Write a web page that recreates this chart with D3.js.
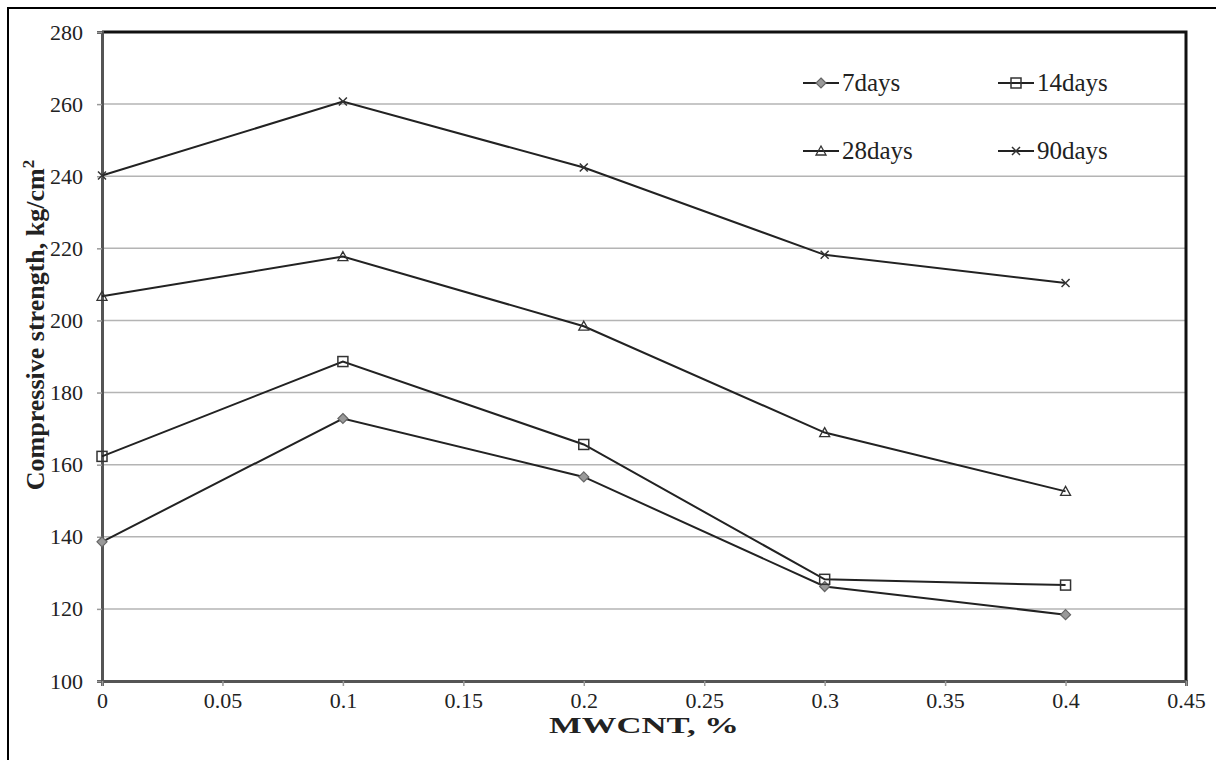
<!DOCTYPE html>
<html>
<head>
<meta charset="utf-8">
<style>
  body { margin: 0; background: #fff; }
  text { font-family: "Liberation Serif", "Times New Roman", serif; fill: #222; }
  .grid line { stroke: #b4b4b4; stroke-width: 1.5; }
  .series { fill: none; stroke: #222; stroke-width: 2; }
</style>
</head>
<body>
<script src="https://cdn.jsdelivr.net/npm/d3@7/dist/d3.min.js"></script>
<script>
// data
var mwcnt = [0, 0.1, 0.2, 0.3, 0.4];
var days7  = [138.6, 172.8, 156.6, 126.2, 118.4];
var days14 = [162.3, 188.6, 165.6, 128.2, 126.6];
var days28 = [206.7, 217.7, 198.4, 168.9, 152.6];
var days90 = [240.2, 260.7, 242.4, 218.2, 210.4];
var seriesNames = ["7days", "14days", "28days", "90days"];
var xTicks = [0, 0.05, 0.1, 0.15, 0.2, 0.25, 0.3, 0.35, 0.4, 0.45];
var yTicks = [100, 120, 140, 160, 180, 200, 220, 240, 260, 280];

var W = 1216, H = 760;
var margin = {top: 32, right: 30, bottom: 79, left: 102};

var svg = d3.select("body").append("svg")
    .attr("width", W).attr("height", H);

// outer frame (cropped at right/bottom in the original)
svg.append("rect")
    .attr("x", 8).attr("y", 8)
    .attr("width", W + 20).attr("height", H + 20)
    .attr("fill", "none").attr("stroke", "#000").attr("stroke-width", 2);

var x = d3.scaleLinear().domain([0, 0.45]).range([margin.left, W - margin.right]);
var y = d3.scaleLinear().domain([100, 280]).range([H - margin.bottom, margin.top]);

// gridlines
svg.append("g").attr("class", "grid")
  .selectAll("line").data(yTicks.slice(1, -1))
  .enter().append("line")
    .attr("x1", x(0)).attr("x2", x(0.45))
    .attr("y1", function(d) { return y(d); })
    .attr("y2", function(d) { return y(d); });

// plot box: top and right black
svg.append("path")
    .attr("d", "M" + x(0) + "," + y(280) + "H" + x(0.45) + "V" + y(100))
    .attr("fill", "none").attr("stroke", "#111").attr("stroke-width", 3);

// axes
var yAxis = d3.axisLeft(y).tickValues(yTicks).tickSize(5).tickPadding(14);
var xAxis = d3.axisBottom(x).tickValues(xTicks).tickSize(5).tickPadding(6)
    .tickFormat(function(d) { return d3.format("")(+d.toFixed(2)); });

var gy = svg.append("g").attr("transform", "translate(" + x(0) + ",0)").call(yAxis);
var gx = svg.append("g").attr("transform", "translate(0," + y(100) + ")").call(xAxis);
[gx, gy].forEach(function(g) {
  g.attr("font-size", 22).attr("font-family", "Liberation Serif");
  g.select(".domain").attr("stroke", "#555").attr("stroke-width", 3);
  g.selectAll(".tick line").attr("stroke", "#999").attr("stroke-width", 1.5);
  g.selectAll(".tick text").style("font-size", "22px").attr("fill", "#222");
});

// series
var allSeries = [days7, days14, days28, days90];
var line = d3.line()
    .x(function(d, i) { return x(mwcnt[i]); })
    .y(function(d) { return y(d); });

var symbols = ["diamond", "square", "triangle", "cross"];

function drawMarker(g, type, cx, cy) {
  var s = 5;
  if (type === "diamond") {
    g.append("path")
      .attr("d", "M" + cx + "," + (cy - s) + "L" + (cx + s) + "," + cy + "L" + cx + "," + (cy + s) + "L" + (cx - s) + "," + cy + "Z")
      .attr("fill", "#999").attr("stroke", "#666").attr("stroke-width", 1.2);
  } else if (type === "square") {
    g.append("rect")
      .attr("x", cx - s).attr("y", cy - s).attr("width", 2 * s).attr("height", 2 * s)
      .attr("fill", "none").attr("stroke", "#333").attr("stroke-width", 1.5);
  } else if (type === "triangle") {
    g.append("path")
      .attr("d", "M" + cx + "," + (cy - s) + "L" + (cx + s) + "," + (cy + s - 1) + "L" + (cx - s) + "," + (cy + s - 1) + "Z")
      .attr("fill", "none").attr("stroke", "#333").attr("stroke-width", 1.3);
  } else {
    g.append("path")
      .attr("d", "M" + (cx - 4) + "," + (cy - 4) + "L" + (cx + 4) + "," + (cy + 4) + "M" + (cx + 4) + "," + (cy - 4) + "L" + (cx - 4) + "," + (cy + 4))
      .attr("fill", "none").attr("stroke", "#333").attr("stroke-width", 1.5);
  }
}

allSeries.forEach(function(vals, k) {
  svg.append("path").datum(vals).attr("class", "series").attr("d", line);
  var g = svg.append("g");
  vals.forEach(function(v, i) { drawMarker(g, symbols[k], x(mwcnt[i]), y(v)); });
});

// legend
var legendPos = [[803, 83], [998, 83], [803, 151], [998, 151]];
seriesNames.forEach(function(name, k) {
  var lx = legendPos[k][0], ly = legendPos[k][1];
  var g = svg.append("g");
  g.append("line").attr("x1", lx).attr("x2", lx + 36).attr("y1", ly).attr("y2", ly)
    .attr("stroke", "#222").attr("stroke-width", 2);
  drawMarker(g, symbols[k], lx + 18, ly);
  g.append("text").attr("x", lx + 39).attr("y", ly + 8)
    .attr("font-size", 25).text(name);
});

// axis titles
svg.append("text")
    .attr("x", 644).attr("y", 733)
    .attr("text-anchor", "middle").attr("font-size", 23).attr("font-weight", "bold")
    .attr("textLength", 190).attr("lengthAdjust", "spacingAndGlyphs")
    .text("MWCNT, %");

var yt = svg.append("text")
    .attr("transform", "translate(44,325) rotate(-90)")
    .attr("text-anchor", "middle").attr("font-size", 26).attr("font-weight", "bold");
yt.append("tspan").text("Compressive strength, kg/cm");
yt.append("tspan").attr("dy", -10).attr("font-size", 17).text("2");
</script>
</body>
</html>
